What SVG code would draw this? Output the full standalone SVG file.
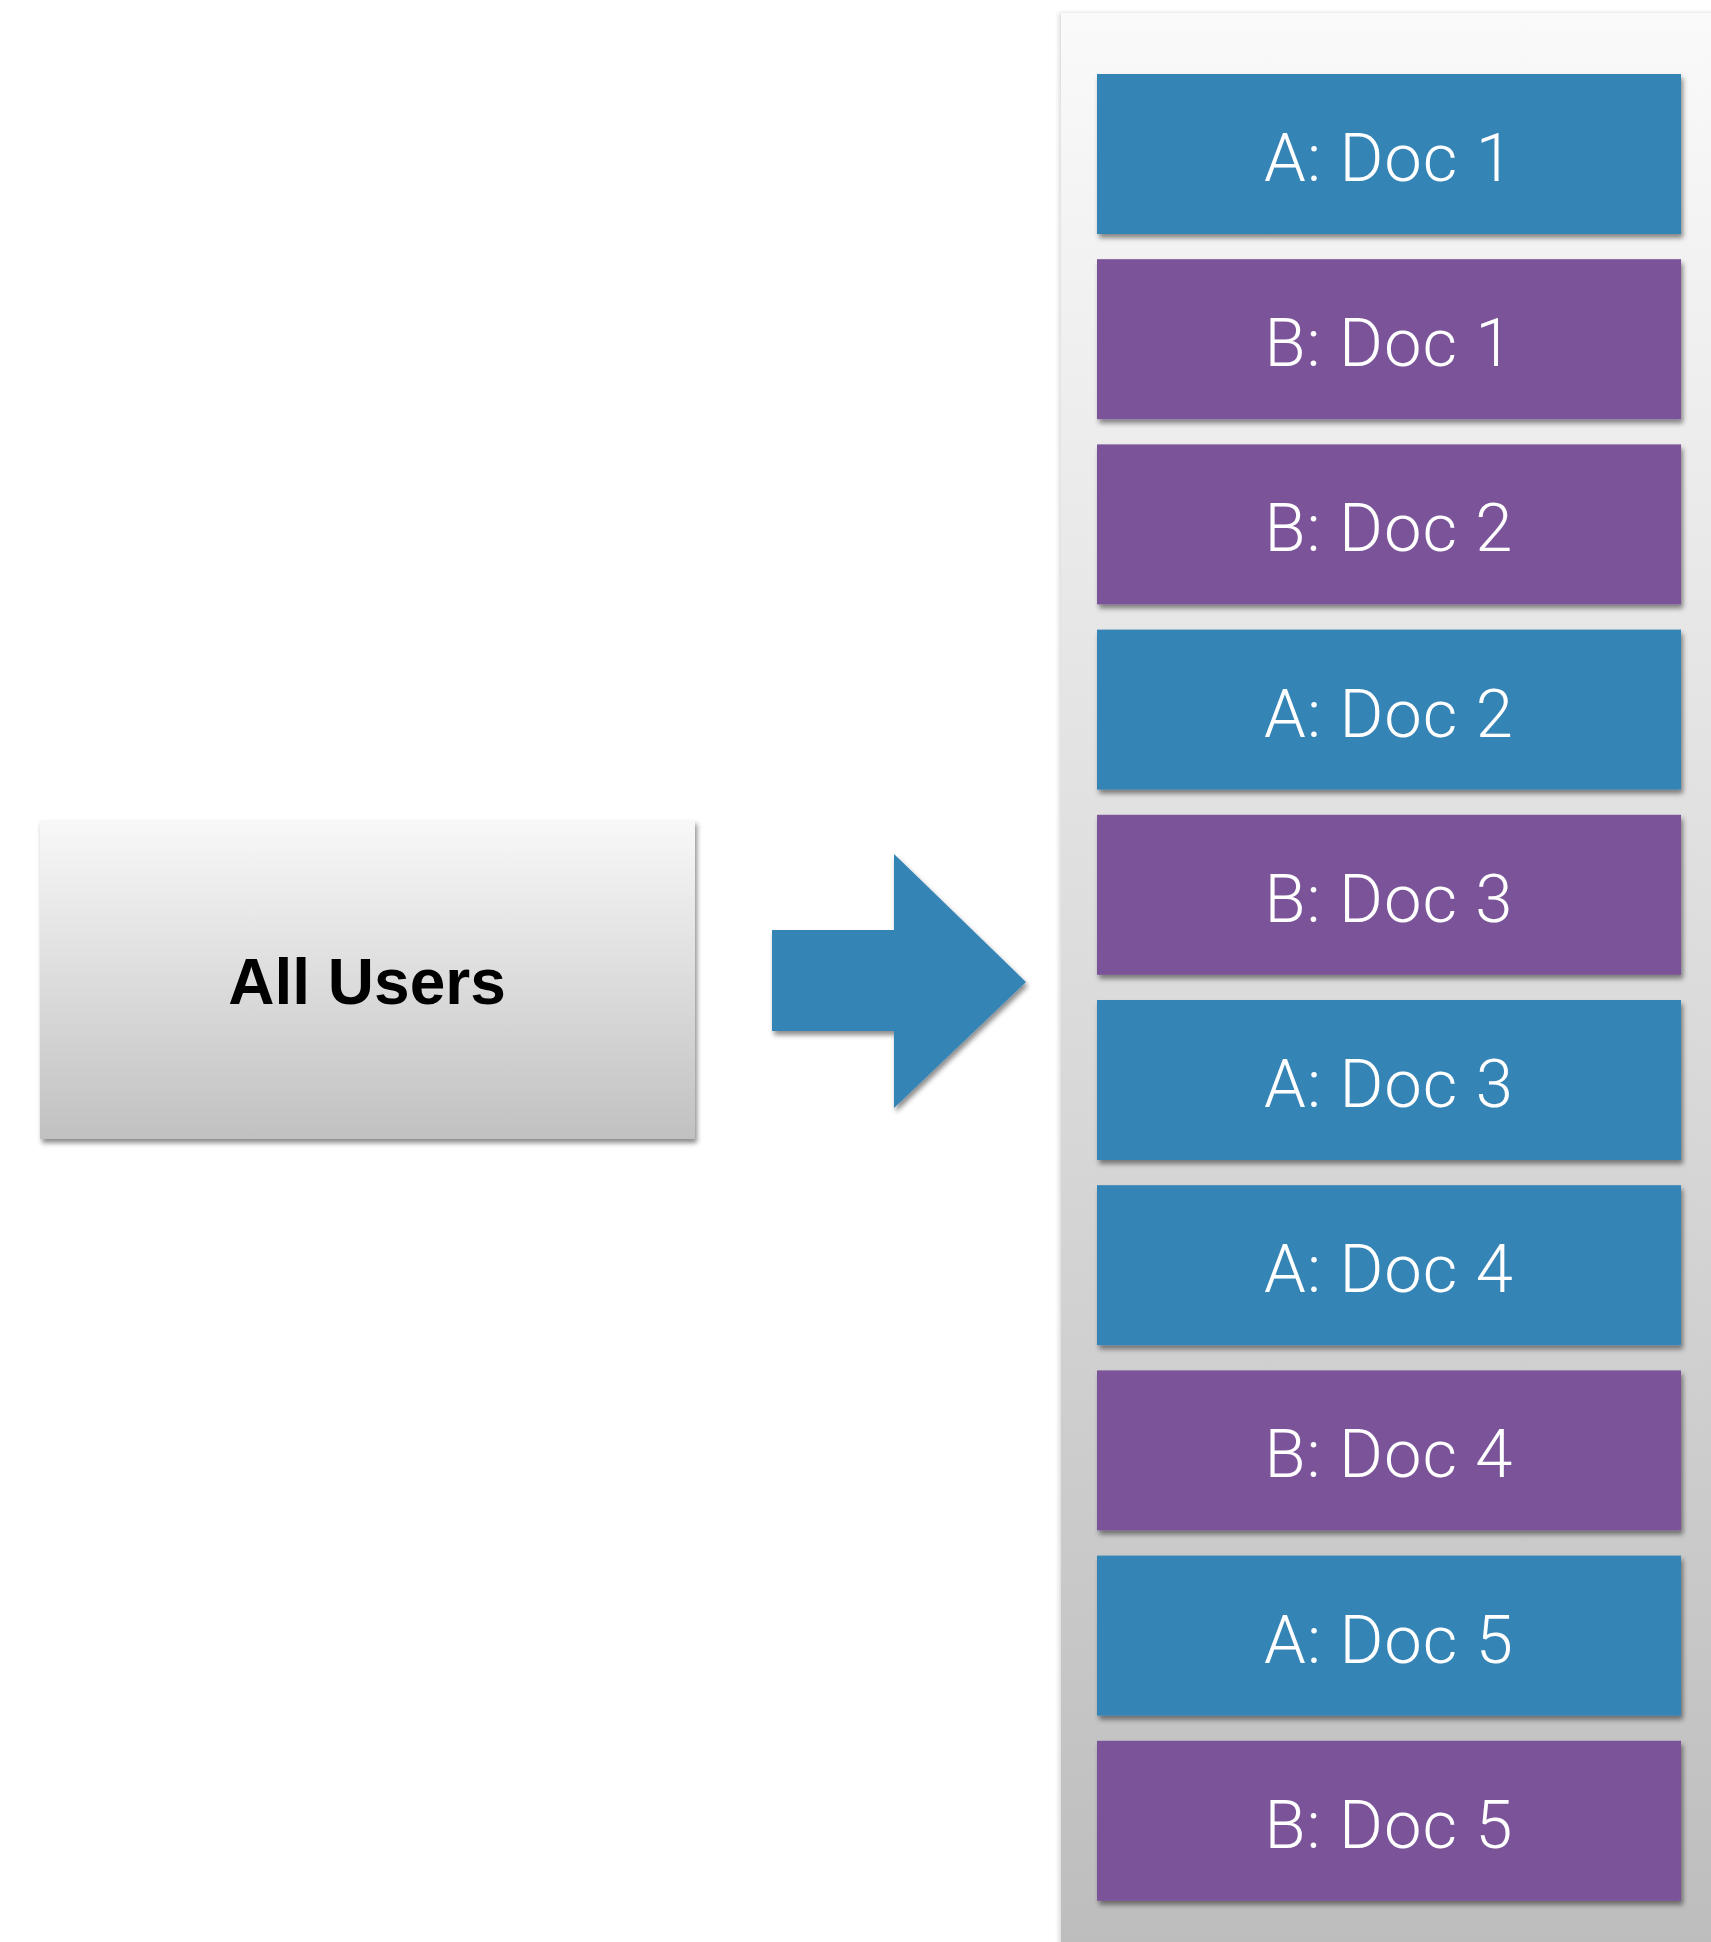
<svg xmlns="http://www.w3.org/2000/svg" width="1711" height="1942" viewBox="0 0 1711 1942">
<defs>
<linearGradient id="panelGrad" x1="0" y1="0" x2="0" y2="1">
<stop offset="0" stop-color="#fafafa"/>
<stop offset="1" stop-color="#bdbdbd"/>
</linearGradient>
<linearGradient id="userGrad" x1="0" y1="0" x2="0" y2="1">
<stop offset="0" stop-color="#f8f8f8"/>
<stop offset="1" stop-color="#c1c1c1"/>
</linearGradient>
<filter id="shadow" x="-5%" y="-10%" width="112%" height="125%">
<feDropShadow dx="2" dy="4" stdDeviation="2.5" flood-color="#000" flood-opacity="0.45"/>
</filter>
<filter id="panelShadow" x="-5%" y="-5%" width="110%" height="110%">
<feDropShadow dx="-2" dy="0" stdDeviation="2" flood-color="#000" flood-opacity="0.15"/>
</filter>
</defs>
<style>
.doc-a { fill: #3584b6; }
.doc-b { fill: #7a5399; }
.doc-label { font-family: Roboto, "Liberation Sans", sans-serif; font-weight: 300; font-size: 67px; letter-spacing: 1px; fill: #ffffff; text-anchor: middle; }
.user-label { font-family: "Liberation Sans", Arial, sans-serif; font-weight: bold; font-size: 64px; fill: #000000; text-anchor: middle; }
</style>
<rect width="1711" height="1942" fill="#ffffff"/>
<g id="panel">
<rect x="1061" y="13" width="660" height="1940" fill="url(#panelGrad)" filter="url(#panelShadow)"/>
</g>
<g id="all-users">
<rect x="40" y="820" width="655" height="319" fill="url(#userGrad)" filter="url(#shadow)"/>
<text class="user-label" x="367" y="1004">All Users</text>
</g>
<g id="connectors">
<polygon points="772,930 894,930 894,854 1026,982 894,1108 894,1031 772,1031" fill="#3584b6" filter="url(#shadow)"/>
</g>
<g id="doc-a1"><rect class="doc-a" x="1097" y="74" width="584" height="160" filter="url(#shadow)"/><text class="doc-label" x="1389" y="181">A: Doc 1</text></g>
<g id="doc-b1"><rect class="doc-b" x="1097" y="259.2" width="584" height="160" filter="url(#shadow)"/><text class="doc-label" x="1389" y="366.2">B: Doc 1</text></g>
<g id="doc-b2"><rect class="doc-b" x="1097" y="444.4" width="584" height="160" filter="url(#shadow)"/><text class="doc-label" x="1389" y="551.4">B: Doc 2</text></g>
<g id="doc-a2"><rect class="doc-a" x="1097" y="629.6" width="584" height="160" filter="url(#shadow)"/><text class="doc-label" x="1389" y="736.6">A: Doc 2</text></g>
<g id="doc-b3"><rect class="doc-b" x="1097" y="814.8" width="584" height="160" filter="url(#shadow)"/><text class="doc-label" x="1389" y="921.8">B: Doc 3</text></g>
<g id="doc-a3"><rect class="doc-a" x="1097" y="1000" width="584" height="160" filter="url(#shadow)"/><text class="doc-label" x="1389" y="1107">A: Doc 3</text></g>
<g id="doc-a4"><rect class="doc-a" x="1097" y="1185.2" width="584" height="160" filter="url(#shadow)"/><text class="doc-label" x="1389" y="1292.2">A: Doc 4</text></g>
<g id="doc-b4"><rect class="doc-b" x="1097" y="1370.4" width="584" height="160" filter="url(#shadow)"/><text class="doc-label" x="1389" y="1477.4">B: Doc 4</text></g>
<g id="doc-a5"><rect class="doc-a" x="1097" y="1555.6" width="584" height="160" filter="url(#shadow)"/><text class="doc-label" x="1389" y="1662.6">A: Doc 5</text></g>
<g id="doc-b5"><rect class="doc-b" x="1097" y="1740.8" width="584" height="160" filter="url(#shadow)"/><text class="doc-label" x="1389" y="1847.8">B: Doc 5</text></g>
</svg>
